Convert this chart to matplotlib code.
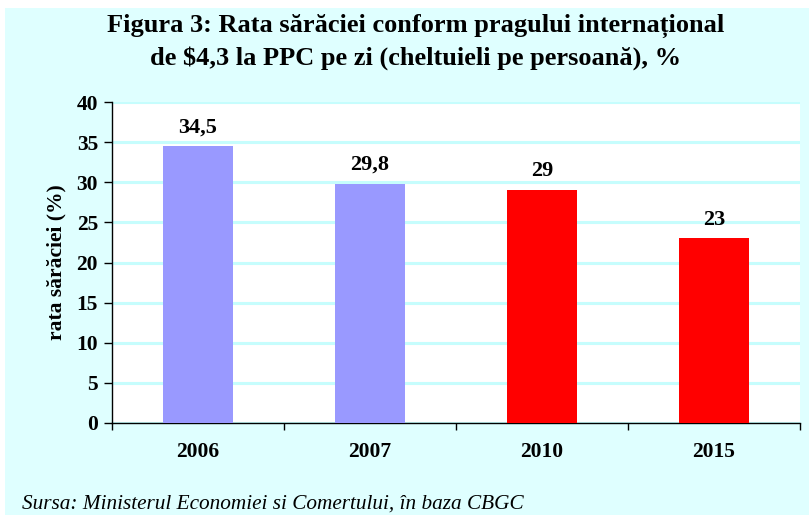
import numpy as np
import matplotlib
matplotlib.use('Agg')
import matplotlib.pyplot as plt
from matplotlib.patches import Rectangle

years = ['2006', '2007', '2010', '2015']
rates = [34.5, 29.8, 29.0, 23.0]
rate_labels = ['34,5', '29,8', '29', '23']
bar_colors = ['#9999FF', '#9999FF', '#FF0000', '#FF0000']
y_ticks = [0, 5, 10, 15, 20, 25, 30, 35, 40]

title_lines = ['Figura 3: Rata sărăciei conform pragului internațional',
               'de $4,3 la PPC pe zi (cheltuieli pe persoană), %']
y_label = 'rata sărăciei (%)'
source = 'Sursa: Ministerul Economiei si Comertului, în baza CBGC'

bg = '#DFFFFF'
grid_col = '#C6FDFD'

plt.rcParams['font.family'] = ['Liberation Serif', 'DejaVu Serif']

W, H = 809, 515
fig = plt.figure(figsize=(W / 100, H / 100), dpi=100)
fig.patch.set_facecolor('white')
# cyan chart area, thin white margin top/left like the source
fig.patches.append(Rectangle((5 / W, 0), 1 - 5 / W, 1 - 8 / H,
                             transform=fig.transFigure, facecolor=bg,
                             edgecolor='none', zorder=-10))

ax = fig.add_axes([112 / W, (H - 423) / H, (800 - 112) / W, (423 - 102) / H])
ax.set_facecolor('white')

x = np.arange(len(years))
ax.bar(x, rates, width=0.41, color=bar_colors, zorder=3)
for xi, v, lab in zip(x, rates, rate_labels):
    ax.annotate(lab, (xi, v), xytext=(0, 10), textcoords='offset points',
                ha='center', va='baseline', fontsize=16, fontweight='bold')

ax.set_xlim(-0.5, len(years) - 0.5)
ax.set_ylim(0, 40)
ax.set_yticks(y_ticks)
ax.set_yticklabels([str(t) for t in y_ticks], fontsize=15.5, fontweight='bold')
ax.set_xticks(x)
ax.set_xticklabels(years, fontsize=15.5, fontweight='bold')
ax.set_xticks(np.arange(len(years) + 1) - 0.5, minor=True)
ax.tick_params(axis='x', which='major', length=0, pad=14)
ax.tick_params(axis='x', which='minor', length=5, width=1, direction='out')
ax.tick_params(axis='y', length=6, width=1, direction='out', pad=4)

ax.yaxis.grid(True, color=grid_col, linewidth=2.2, zorder=0)
ax.set_axisbelow(True)
for side in ['top', 'right']:
    ax.spines[side].set_visible(False)
ax.spines['left'].set_linewidth(1)
ax.spines['bottom'].set_linewidth(1)

ax.set_ylabel(y_label, fontsize=15.5, fontweight='bold', labelpad=7)

fig.text(416 / W, 1 - 32 / H, title_lines[0], ha='center', va='baseline',
         fontsize=19, fontweight='bold')
fig.text(416 / W, 1 - 65 / H, title_lines[1], ha='center', va='baseline',
         fontsize=19, fontweight='bold')
fig.text(22 / W, 1 - 509 / H, source, ha='left', va='baseline',
         fontsize=15.3, style='italic')

fig.savefig('out.png', dpi=100, facecolor=fig.get_facecolor())
